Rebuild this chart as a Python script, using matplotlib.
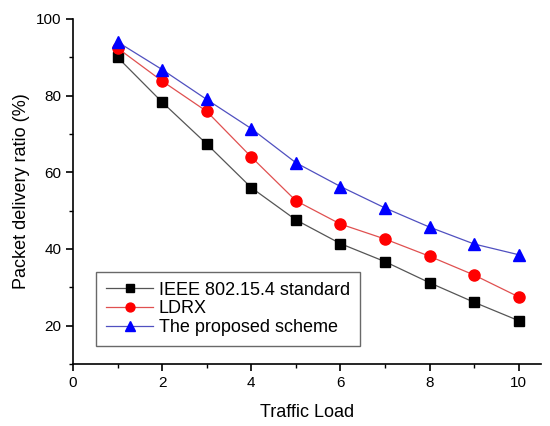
import matplotlib
matplotlib.use("Agg")
import matplotlib.pyplot as plt
from matplotlib.ticker import MultipleLocator

plt.rcParams['font.family'] = ['Liberation Sans', 'DejaVu Sans']

traffic_load = [1, 2, 3, 4, 5, 6, 7, 8, 9, 10]
ieee = [90.0, 78.3, 67.4, 56.0, 47.6, 41.4, 36.7, 31.2, 26.1, 21.3]
ldrx = [92.4, 83.8, 75.9, 64.0, 52.6, 46.5, 42.6, 38.1, 33.2, 27.5]
proposed = [94.0, 86.8, 79.0, 71.4, 62.5, 56.3, 50.7, 45.7, 41.3, 38.5]
labels = ["IEEE 802.15.4 standard", "LDRX", "The proposed scheme"]

fig = plt.figure(figsize=(5.5, 4.26), dpi=100)
ax = fig.add_axes([0.1327, 0.1455, 0.851, 0.81])

ax.plot(traffic_load, ieee, color='#555555', lw=0.9, marker='s', ms=7,
        mfc='black', mec='black', label=labels[0])
ax.plot(traffic_load, ldrx, color='#e05050', lw=0.9, marker='o', ms=8,
        mfc='red', mec='red', label=labels[1])
ax.plot(traffic_load, proposed, color='#5050c0', lw=0.9, marker='^', ms=9,
        mfc='blue', mec='blue', label=labels[2])

ax.set_xlim(0, 10.5)
ax.set_ylim(10, 100)
ax.xaxis.set_major_locator(MultipleLocator(2))
ax.xaxis.set_minor_locator(MultipleLocator(1))
ax.yaxis.set_major_locator(MultipleLocator(20))
ax.yaxis.set_minor_locator(MultipleLocator(10))
ax.set_yticks([20, 40, 60, 80, 100])
ax.spines['top'].set_visible(False)
ax.spines['right'].set_visible(False)
for s in ('left', 'bottom'):
    ax.spines[s].set_linewidth(1.2)
ax.tick_params(which='major', direction='out', length=5, width=1.2, labelsize=11)
ax.tick_params(which='minor', direction='out', length=3, width=1.0)

ax.set_xlabel("Traffic Load", fontsize=13, labelpad=10)
ax.set_ylabel("Packet delivery ratio (%)", fontsize=13)

leg = ax.legend(loc='lower left', bbox_to_anchor=(0.05, 0.052), fontsize=13,
                frameon=True, fancybox=False, edgecolor='#444444',
                handlelength=2.6, handletextpad=0.3, borderpad=0.55,
                labelspacing=0.1, borderaxespad=0, markerscale=0.8)
leg.get_frame().set_linewidth(1.0)

fig.savefig("out.png", dpi=100)
